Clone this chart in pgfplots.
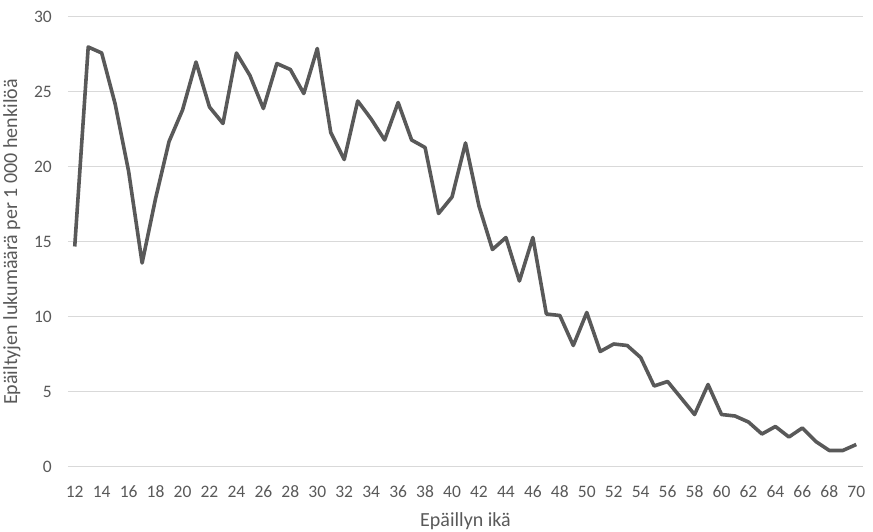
\documentclass[border=0pt]{standalone}
\usepackage{fontspec}
\setmainfont{Carlito}
\usepackage{pgfplots}
\pgfplotsset{compat=1.18}
\definecolor{linegray}{HTML}{595959}
\definecolor{gridgray}{HTML}{D9D9D9}
\definecolor{textgray}{HTML}{595959}
\begin{document}
\begin{tikzpicture}[x=1pt,y=1pt]
\useasboundingbox (0,0) rectangle (873,532);
\begin{axis}[
  at={(68pt,65pt)}, anchor=south west,
  scale only axis, width=795pt, height=450pt,
  xmin=11.5, xmax=70.5, ymin=0, ymax=30,
  xtick={12,14,...,70}, ytick={0,5,...,30},
  axis line style={draw=none},
  major tick length=0pt,
  ymajorgrids, grid style={gridgray, line width=1pt},
  tick label style={font=\fontsize{17.5}{19}\selectfont, text=textgray, inner sep=0pt},
  /pgf/number format/assume math mode=true,
  xticklabel style={anchor=center, yshift=-24.7pt},
  yticklabel style={anchor=east, xshift=-16pt},
  xlabel={Epäillyn ikä},
  ylabel={Epäiltyjen lukumäärä per 1~000 henkilöä},
  label style={font=\fontsize{20}{22}\selectfont, text=textgray, inner sep=0pt},
  xlabel style={at={(axis description cs:0.5,-0.12)}, anchor=center},
  ylabel style={at={(axis description cs:-0.0705,0.5)}, anchor=center},
  clip=false,
]
\addplot[linegray, line width=3.6pt, line join=round] coordinates {
(12,14.7)(13,28.0)(14,27.6)(15,24.2)(16,19.7)(17,13.6)(18,17.9)(19,21.7)(20,23.8)
(21,27.0)(22,24.0)(23,22.9)(24,27.6)(25,26.1)(26,23.9)(27,26.9)(28,26.5)(29,24.9)
(30,27.9)(31,22.3)(32,20.5)(33,24.4)(34,23.2)(35,21.8)(36,24.3)(37,21.8)(38,21.3)
(39,16.9)(40,18.0)(41,21.6)(42,17.4)(43,14.5)(44,15.3)(45,12.4)(46,15.3)(47,10.2)
(48,10.1)(49,8.1)(50,10.3)(51,7.7)(52,8.2)(53,8.1)(54,7.3)(55,5.4)(56,5.7)(57,4.6)
(58,3.5)(59,5.5)(60,3.5)(61,3.4)(62,3.0)(63,2.2)(64,2.7)(65,2.0)(66,2.6)(67,1.7)
(68,1.1)(69,1.1)(70,1.5)
};
\end{axis}
\end{tikzpicture}
\end{document}
